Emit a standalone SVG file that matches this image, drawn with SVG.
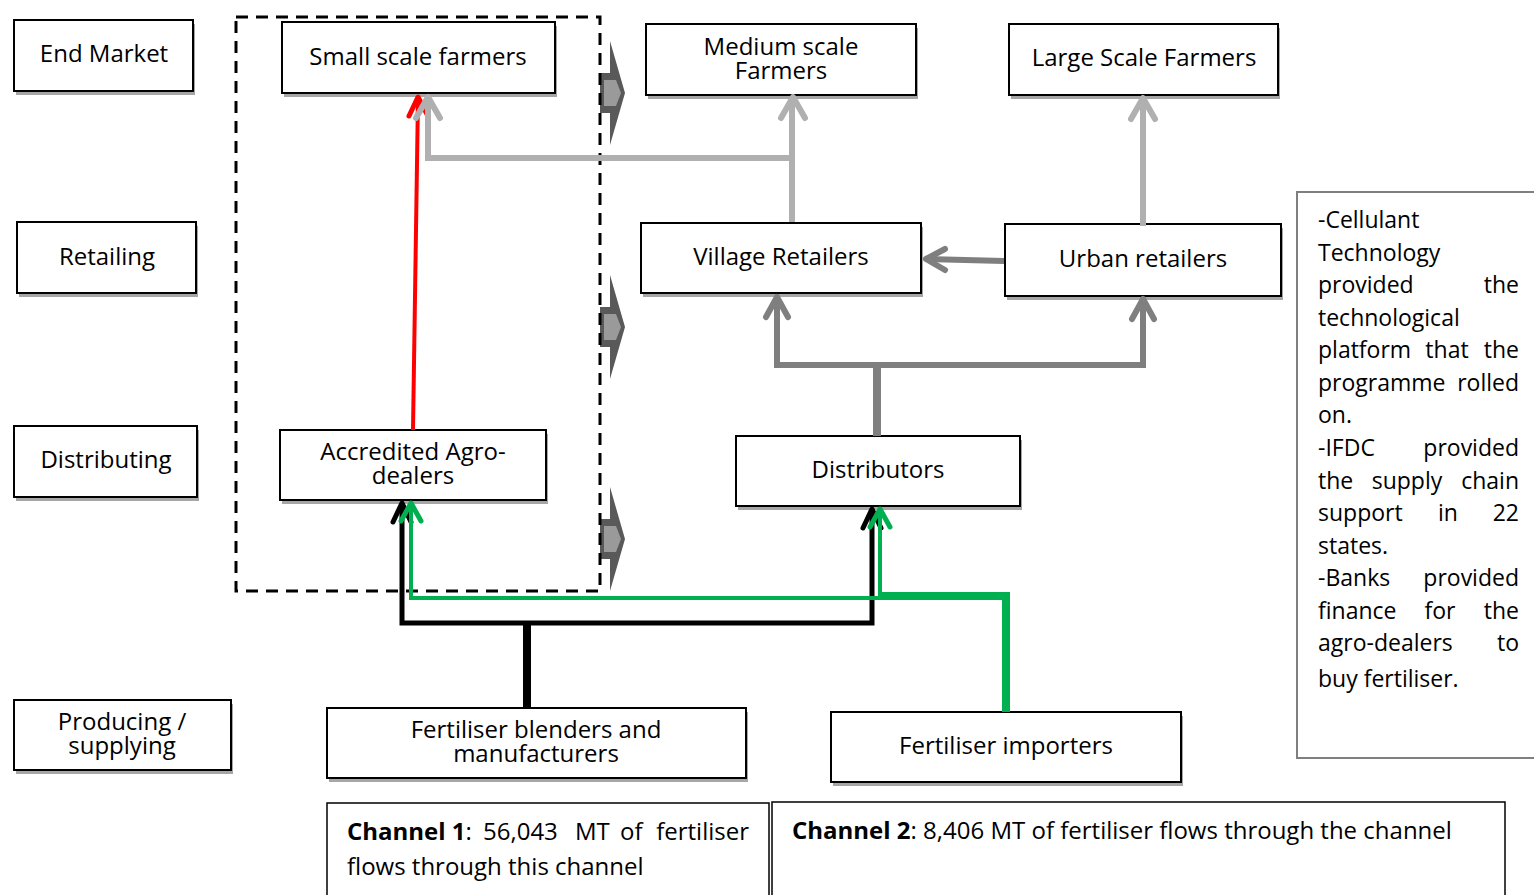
<svg xmlns="http://www.w3.org/2000/svg" xmlns:xlink="http://www.w3.org/1999/xlink" width="1534" height="895" viewBox="0 0 1534 895">
<style>
.box{fill:#fff;stroke:#000;stroke-width:2}
.sh{fill:#a6a6a6}
.t{font-family:"Open Sans","Liberation Sans",sans-serif;font-size:24px;fill:#000;text-anchor:middle}
.s{font-family:"Open Sans","Liberation Sans",sans-serif;font-size:23px;fill:#000}
.m{text-anchor:middle}
.e{text-anchor:end}
.c{font-family:"Open Sans","Liberation Sans",sans-serif;font-size:24px;fill:#000}
.b{font-weight:bold}
.ln{fill:none;stroke-linejoin:miter}
.hd{fill:none;stroke-linecap:round;stroke-linejoin:round}
</style>
<defs>
<g id="chev">
<path d="M600,-20 H610 V-52 L625,0 L610,52 V20 H600 Z" fill="#595959"/>
<path d="M604,-13 H616 L621,0 L616,13 H604 Z" fill="#9a9a9a"/>
</g>
</defs>
<rect width="1534" height="895" fill="#fff"/>

<!-- stage labels -->
<g id="end-market"><rect class="sh" x="16" y="24" width="179" height="71"/><rect class="box" x="14" y="20" width="179" height="71"/><text class="t" x="104" y="62">End Market</text></g>
<g id="retailing"><rect class="sh" x="19" y="226" width="179" height="71"/><rect class="box" x="17" y="222" width="179" height="71"/><text class="t" x="107" y="265">Retailing</text></g>
<g id="distributing"><rect class="sh" x="16" y="430" width="183" height="71"/><rect class="box" x="14" y="426" width="183" height="71"/><text class="t" x="106" y="468">Distributing</text></g>
<g id="producing"><rect class="sh" x="16" y="704" width="217" height="70"/><rect class="box" x="14" y="700" width="217" height="70"/><text class="t" x="122" y="730">Producing /</text><text class="t" x="122" y="754">supplying</text></g>

<!-- chevrons on dashed boundary -->
<g id="boundary-arrows">
<use xlink:href="#chev" href="#chev" transform="translate(0,93)"/>
<use xlink:href="#chev" href="#chev" transform="translate(0,327)"/>
<use xlink:href="#chev" href="#chev" transform="translate(0,539)"/>
</g>

<!-- nodes -->
<g id="small-scale"><rect class="sh" x="284" y="26" width="273" height="71"/><rect class="box" x="282" y="22" width="273" height="71"/><text class="t" x="418" y="65">Small scale farmers</text></g>
<g id="medium-scale"><rect class="sh" x="648" y="28" width="270" height="71"/><rect class="box" x="646" y="24" width="270" height="71"/><text class="t" x="781" y="55">Medium scale</text><text class="t" x="781" y="79">Farmers</text></g>
<g id="large-scale"><rect class="sh" x="1011" y="28" width="269" height="71"/><rect class="box" x="1009" y="24" width="269" height="71"/><text class="t" x="1144" y="66">Large Scale Farmers</text></g>
<g id="village"><rect class="sh" x="643" y="227" width="280" height="70"/><rect class="box" x="641" y="223" width="280" height="70"/><text class="t" x="781" y="265">Village Retailers</text></g>
<g id="urban"><rect class="sh" x="1007" y="228" width="276" height="72"/><rect class="box" x="1005" y="224" width="276" height="72"/><text class="t" x="1143" y="267">Urban retailers</text></g>
<g id="agro-dealers"><rect class="sh" x="282" y="434" width="266" height="70"/><rect class="box" x="280" y="430" width="266" height="70"/><text class="t" x="413" y="460">Accredited Agro-</text><text class="t" x="413" y="484">dealers</text></g>
<g id="distributors"><rect class="sh" x="738" y="440" width="284" height="70"/><rect class="box" x="736" y="436" width="284" height="70"/><text class="t" x="878" y="478">Distributors</text></g>
<g id="blenders"><rect class="sh" x="329" y="712" width="419" height="70"/><rect class="box" x="327" y="708" width="419" height="70"/><text class="t" x="536" y="738">Fertiliser blenders and</text><text class="t" x="536" y="762">manufacturers</text></g>
<g id="importers"><rect class="sh" x="833" y="716" width="350" height="70"/><rect class="box" x="831" y="712" width="350" height="70"/><text class="t" x="1006" y="754">Fertiliser importers</text></g>

<!-- dashed boundary -->
<g id="boundary"><rect x="236" y="17" width="364" height="574" fill="none" stroke="#000" stroke-width="3" stroke-dasharray="12 8"/></g>

<!-- connectors -->
<g id="connectors">
<line x1="413" y1="430" x2="418" y2="97" stroke="#ff0000" stroke-width="4"/>
<polyline class="hd" points="409,116 418,97 428,116" stroke="#ff0000" stroke-width="5"/>
<path class="ln" d="M792,222 V98" stroke="#b0b0b0" stroke-width="6"/>
<path class="ln" d="M792,158 H428 V98" stroke="#b0b0b0" stroke-width="6"/>
<polyline class="hd" points="416,118 428,97 440,118" stroke="#b0b0b0" stroke-width="6"/>
<polyline class="hd" points="781,118 793,97 805,118" stroke="#b0b0b0" stroke-width="6"/>
<path class="ln" d="M1143,226 V99" stroke="#b0b0b0" stroke-width="6"/>
<polyline class="hd" points="1131,119 1143,98 1155,119" stroke="#b0b0b0" stroke-width="6"/>
<path class="ln" d="M1004,261 L926,259" stroke="#7f7f7f" stroke-width="6"/>
<polyline class="hd" points="945,249 926,259 945,270" stroke="#7f7f7f" stroke-width="6"/>
<path class="ln" d="M877,436 V365" stroke="#7f7f7f" stroke-width="8"/>
<path class="ln" d="M777,298 V365 H1143 V300" stroke="#7f7f7f" stroke-width="6"/>
<polyline class="hd" points="766,317 777,297 788,317" stroke="#7f7f7f" stroke-width="6"/>
<polyline class="hd" points="1132,319 1143,299 1154,319" stroke="#7f7f7f" stroke-width="6"/>
<path class="ln" d="M527,708 V623" stroke="#000" stroke-width="8"/>
<path class="ln" d="M402,504 V623 H872 V510" stroke="#000" stroke-width="5"/>
<polyline class="hd" points="393,522 402,503 411,522" stroke="#000" stroke-width="5"/>
<polyline class="hd" points="863,528 872,509 881,528" stroke="#000" stroke-width="5"/>
<path class="ln" d="M880,596 H1006 V712" stroke="#00b050" stroke-width="8"/>
<path class="ln" d="M880,510 V598 H411 V504" stroke="#00b050" stroke-width="4"/>
<polyline class="hd" points="401,521 411,503 421,521" stroke="#00b050" stroke-width="5"/>
<polyline class="hd" points="870,527 880,509 890,527" stroke="#00b050" stroke-width="5"/>
</g>

<!-- side note -->
<g id="note">
<rect x="1297" y="192" width="240" height="566" fill="#fff" stroke="#7f7f7f" stroke-width="2"/>
<text class="s" x="1318" y="228">-Cellulant</text>
<text class="s" x="1318" y="261">Technology</text>
<text class="s" x="1318" y="293">provided</text><text class="s e" x="1519" y="293">the</text>
<text class="s" x="1318" y="326">technological</text>
<text class="s" x="1318" y="358">platform</text><text class="s m" x="1447" y="358">that</text><text class="s e" x="1519" y="358">the</text>
<text class="s" x="1318" y="391">programme</text><text class="s e" x="1519" y="391">rolled</text>
<text class="s" x="1318" y="423">on.</text>
<text class="s" x="1318" y="456">-IFDC</text><text class="s e" x="1519" y="456">provided</text>
<text class="s" x="1318" y="489">the</text><text class="s m" x="1407" y="489">supply</text><text class="s e" x="1519" y="489">chain</text>
<text class="s" x="1318" y="521">support</text><text class="s m" x="1448" y="521">in</text><text class="s e" x="1519" y="521">22</text>
<text class="s" x="1318" y="554">states.</text>
<text class="s" x="1318" y="586">-Banks</text><text class="s e" x="1519" y="586">provided</text>
<text class="s" x="1318" y="619">finance</text><text class="s m" x="1440" y="619">for</text><text class="s e" x="1519" y="619">the</text>
<text class="s" x="1318" y="651">agro-dealers</text><text class="s e" x="1519" y="651">to</text>
<text class="s" x="1318" y="687">buy fertiliser.</text>
</g>

<!-- channel boxes -->
<g id="channel-1">
<rect x="327" y="803" width="442" height="100" fill="#fff" stroke="#000" stroke-width="1.5"/>
<text class="c" x="347" y="840"><tspan class="b">Channel 1</tspan>:</text>
<text class="c" x="483" y="840">56,043</text>
<text class="c" x="575" y="840">MT</text>
<text class="c" x="620" y="840">of</text>
<text class="c" x="749" y="840" text-anchor="end">fertiliser</text>
<text class="c" x="347" y="875">flows through this channel</text>
</g>
<g id="channel-2">
<rect x="772" y="802" width="733" height="100" fill="#fff" stroke="#000" stroke-width="1.5"/>
<text class="c" x="792" y="839"><tspan class="b">Channel 2</tspan>: 8,406 MT of fertiliser flows through the channel</text>
</g>
</svg>
